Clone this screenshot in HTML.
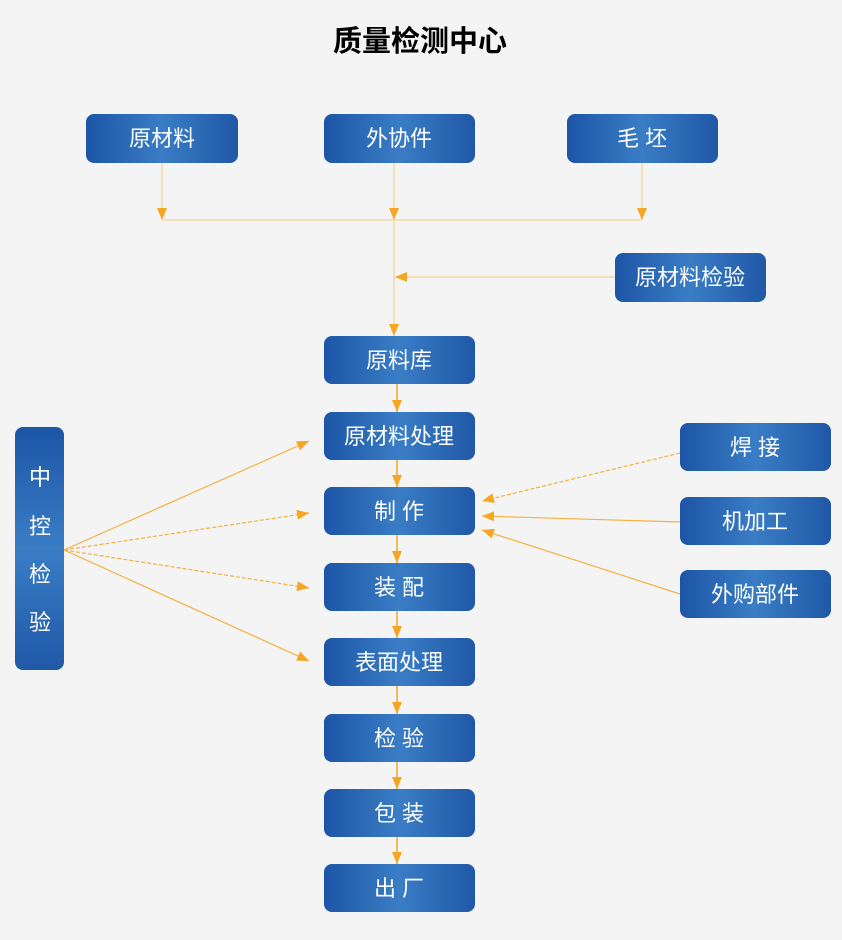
<!DOCTYPE html>
<html><head><meta charset="utf-8"><style>
html,body{margin:0;padding:0;background:#f4f4f4;}
svg{display:block;}
text{font-family:"Liberation Sans","Noto Sans CJK SC",sans-serif;}
</style></head><body>
<svg width="842" height="940" viewBox="0 0 842 940" xmlns="http://www.w3.org/2000/svg">
<defs>
<linearGradient id="g" x1="0" y1="0" x2="1" y2="0">
<stop offset="0" stop-color="#1c55a6"/><stop offset="0.5" stop-color="#3a7dc5"/><stop offset="1" stop-color="#1f58a7"/>
</linearGradient>
<linearGradient id="gv" x1="0" y1="0" x2="0" y2="1">
<stop offset="0" stop-color="#1c55a6"/><stop offset="0.5" stop-color="#3a7dc5"/><stop offset="1" stop-color="#1f58a7"/>
</linearGradient>
<marker id="a" viewBox="0 0 12 10" refX="12" refY="5" markerWidth="12" markerHeight="10" markerUnits="userSpaceOnUse" orient="auto">
<path d="M0,0 L12,5 L0,10 Z" fill="#f5a623"/></marker>
</defs>
<rect width="842" height="940" fill="#f4f4f4"/>
<text x="420" y="51" font-size="29" font-weight="bold" text-anchor="middle" fill="#000">质量检测中心</text>

<g stroke="#f7d9a8" stroke-width="1.5" fill="none">
<line x1="162" y1="220" x2="642" y2="220"/>
<line x1="162" y1="163" x2="162" y2="220" marker-end="url(#a)"/>
<line x1="394" y1="163" x2="394" y2="220" marker-end="url(#a)"/>
<line x1="642" y1="163" x2="642" y2="220" marker-end="url(#a)"/>
<line x1="394" y1="220" x2="394" y2="336" marker-end="url(#a)"/>
<line x1="615" y1="277" x2="395" y2="277" marker-end="url(#a)"/>
</g>
<g stroke="#f5a623" stroke-width="1.5" fill="none">
<line x1="397" y1="384" x2="397" y2="412" marker-end="url(#a)"/>
<line x1="397" y1="460" x2="397" y2="487" marker-end="url(#a)"/>
<line x1="397" y1="535" x2="397" y2="563" marker-end="url(#a)"/>
<line x1="397" y1="611" x2="397" y2="638" marker-end="url(#a)"/>
<line x1="397" y1="686" x2="397" y2="714" marker-end="url(#a)"/>
<line x1="397" y1="762" x2="397" y2="789" marker-end="url(#a)"/>
<line x1="397" y1="837" x2="397" y2="864" marker-end="url(#a)"/>
</g>
<g stroke="#f5b040" stroke-width="1.2" fill="none">
<line x1="64" y1="550" x2="309" y2="441" marker-end="url(#a)"/>
<line x1="64" y1="550" x2="309" y2="513" marker-end="url(#a)" stroke-dasharray="4,2"/>
<line x1="64" y1="550" x2="309" y2="588" marker-end="url(#a)" stroke-dasharray="4,2"/>
<line x1="64" y1="550" x2="309" y2="661" marker-end="url(#a)"/>
<line x1="680" y1="453" x2="482" y2="501" marker-end="url(#a)" stroke-dasharray="4,2"/>
<line x1="680" y1="522" x2="482" y2="516" marker-end="url(#a)"/>
<line x1="680" y1="594" x2="482" y2="530" marker-end="url(#a)"/>
</g>

<g fill="url(#g)">
<rect x="86" y="114" width="152" height="49" rx="8"/>
<rect x="324" y="114" width="151" height="49" rx="8"/>
<rect x="567" y="114" width="151" height="49" rx="8"/>
<rect x="615" y="253" width="151" height="49" rx="8"/>
<rect x="324" y="336" width="151" height="48" rx="8"/>
<rect x="324" y="412" width="151" height="48" rx="8"/>
<rect x="324" y="487" width="151" height="48" rx="8"/>
<rect x="324" y="563" width="151" height="48" rx="8"/>
<rect x="324" y="638" width="151" height="48" rx="8"/>
<rect x="324" y="714" width="151" height="48" rx="8"/>
<rect x="324" y="789" width="151" height="48" rx="8"/>
<rect x="324" y="864" width="151" height="48" rx="8"/>
<rect x="680" y="423" width="151" height="48" rx="8"/>
<rect x="680" y="497" width="151" height="48" rx="8"/>
<rect x="680" y="570" width="151" height="48" rx="8"/>
</g>
<rect x="15" y="427" width="49" height="243" rx="8" fill="url(#gv)"/>

<g fill="#fff" font-size="22" text-anchor="middle">
<text x="162" y="146">原材料</text>
<text x="399" y="146">外协件</text>
<text x="642" y="146">毛 坯</text>
<text x="690" y="285">原材料检验</text>
<text x="399" y="368">原料库</text>
<text x="399" y="444">原材料处理</text>
<text x="399" y="519">制 作</text>
<text x="399" y="595">装 配</text>
<text x="399" y="670">表面处理</text>
<text x="399" y="746">检 验</text>
<text x="399" y="821">包 装</text>
<text x="399" y="896">出 厂</text>
<text x="755" y="455">焊 接</text>
<text x="755" y="529">机加工</text>
<text x="755" y="602">外购部件</text>
<text x="40" y="485">中</text>
<text x="40" y="534">控</text>
<text x="40" y="582">检</text>
<text x="40" y="630">验</text>
</g>
</svg>
</body></html>
